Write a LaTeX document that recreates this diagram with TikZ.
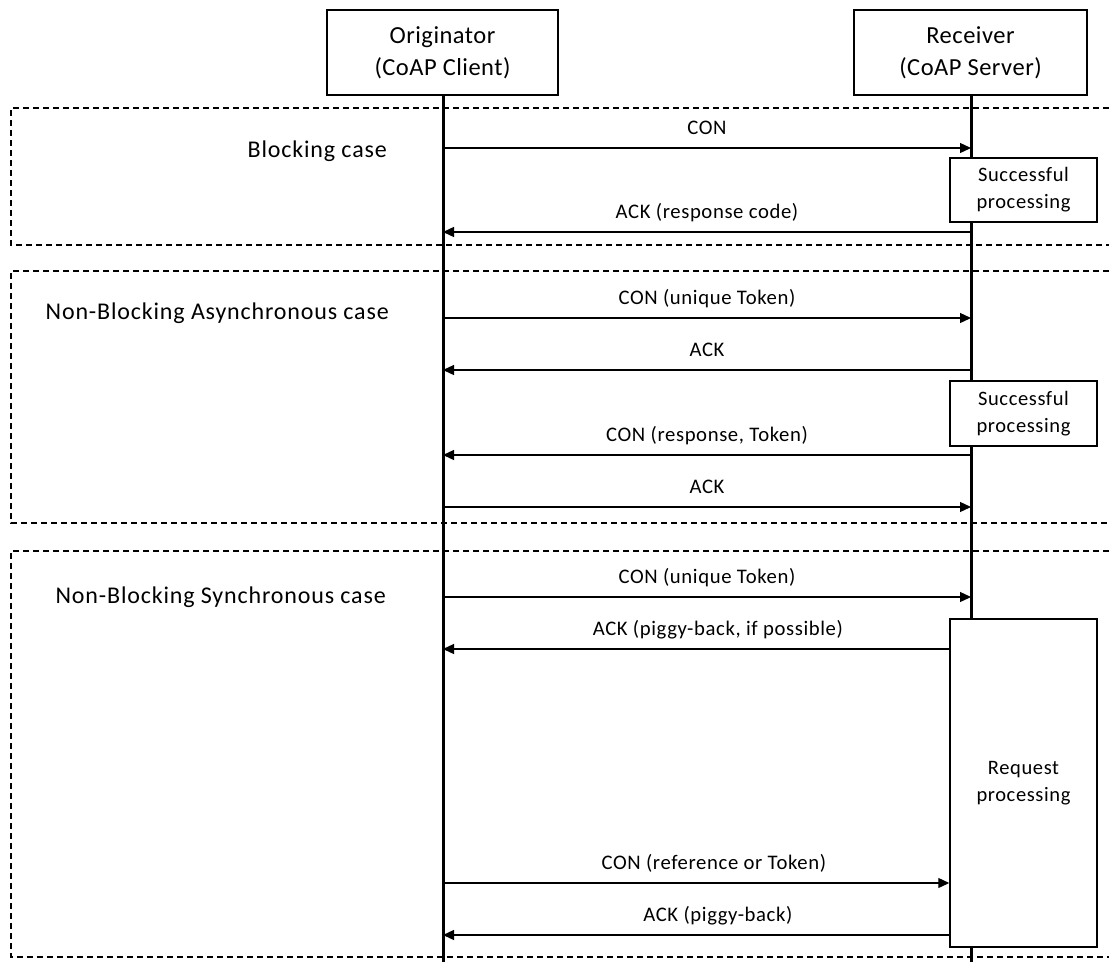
\documentclass[tikz,border=0pt]{standalone}
\usepackage{fontspec}
\setmainfont{Carlito}
\usetikzlibrary{arrows.meta}
\newfontfamily\hdrfont[LetterSpace=2]{Carlito}
\newfontfamily\lblfont[LetterSpace=3]{Carlito}
\newfontfamily\casefont[LetterSpace=3.5]{Carlito}
\begin{document}
\begin{tikzpicture}[x=1pt,y=-1pt,
  actor/.style={draw, line width=1.5pt, minimum width=231pt, minimum height=85pt,
    align=center, inner sep=0pt, font=\hdrfont\fontsize{24.5}{32}\selectfont},
  procbox/.style={draw, fill=white, line width=1.5pt, minimum width=147pt,
    align=center, inner sep=0pt, font=\lblfont\fontsize{20.5}{27}\selectfont},
  lifeline/.style={line width=3pt},
  casebox/.style={line width=1.1pt, dash pattern=on 6pt off 4pt, black},
  caselbl/.style={anchor=base east, inner sep=0pt, font=\casefont\fontsize{24}{28}\selectfont},
  msg/.style={line width=1.3pt, -{Triangle[length=11pt,width=10pt]}},
  lbl/.style={anchor=base, yshift=14pt, inner sep=0pt, font=\lblfont\fontsize{20.7}{24}\selectfont}]
\useasboundingbox (0,0) rectangle (1109,962);

% case frames (open on the right)
\draw[casebox] (1109,108) -- (11,108) -- (11,245) -- (1109,245);
\draw[casebox] (1109,271) -- (11,271) -- (11,523) -- (1109,523);
\draw[casebox] (1109,551) -- (11,551) -- (11,957) -- (1109,957);

\node[caselbl] (c1) at (387,157) {Blocking case};
\node[caselbl] (c2) at (389,319) {Non-Blocking Asynchronous case};
\node[caselbl] (c3) at (386,603) {Non-Blocking Synchronous case};

% actors
\node[actor] (orig) at (442.5,52.5) {Originator\\(CoAP Client)};
\node[actor, minimum width=233pt] (recv) at (970.5,52.5) {Receiver\\(CoAP Server)};
\coordinate (oEnd) at (443,962);
\coordinate (rEnd) at (971,962);
\draw[lifeline] (orig.south -| oEnd) -- (oEnd);
\draw[lifeline] (recv.south -| rEnd) -- (rEnd);

% processing boxes
\node[procbox, minimum height=64pt] (sp1) at (1023.5,190) {Successful\\processing};
\node[procbox, minimum height=65pt] (sp2) at (1023.5,413.5) {Successful\\processing};
\node[procbox, minimum height=328pt] (proc) at (1023.5,783) {Request\\processing};

% blocking case
\draw[msg] (oEnd |- 0,148) -- node[lbl] {CON} (rEnd |- 0,148);
\draw[msg] (rEnd |- 0,232) -- node[lbl] {ACK (response code)} (oEnd |- 0,232);

% non-blocking asynchronous case
\draw[msg] (oEnd |- 0,318) -- node[lbl] {CON (unique Token)} (rEnd |- 0,318);
\draw[msg] (rEnd |- 0,370) -- node[lbl] {ACK} (oEnd |- 0,370);
\draw[msg] (rEnd |- 0,455) -- node[lbl] {CON (response, Token)} (oEnd |- 0,455);
\draw[msg] (oEnd |- 0,507) -- node[lbl] {ACK} (rEnd |- 0,507);

% non-blocking synchronous case
\draw[msg] (oEnd |- 0,597) -- node[lbl] {CON (unique Token)} (rEnd |- 0,597);
\draw[msg] (proc.west |- 0,649) -- node[lbl, pos=0.457] {ACK (piggy-back, if possible)} (oEnd |- 0,649);
\draw[msg] (oEnd |- 0,883) -- node[lbl, pos=0.535] {CON (reference or Token)} (proc.west |- 0,883);
\draw[msg] (proc.west |- 0,935) -- node[lbl, pos=0.457] {ACK (piggy-back)} (oEnd |- 0,935);
\end{tikzpicture}
\end{document}
